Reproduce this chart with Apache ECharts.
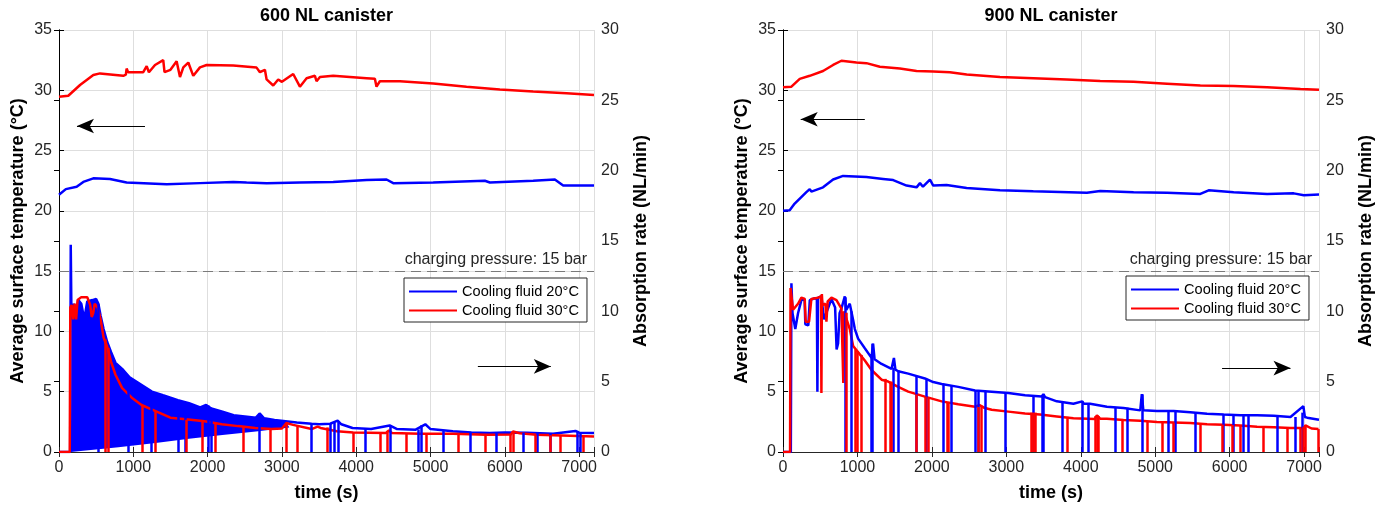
<!DOCTYPE html>
<html>
<head>
<meta charset="utf-8">
<title>Canister surface temperature and absorption rate</title>
<script src="https://cdn.jsdelivr.net/npm/echarts@6/dist/echarts.min.js"></script>
<style>
  html, body { margin: 0; padding: 0; background: #fff; }
  #chart { width: 1388px; height: 511px; }
</style>
</head>
<body>
<div id="chart"></div>
<script>
// ---- data (time in s, temperature in °C, absorption rate in NL/min) ----
const seriesNames = ['Cooling fluid 20°C', 'Cooling fluid 30°C'];
const panelTitles = ['600 NL canister', '900 NL canister'];
const xTickStep = 1000;
const xMax = 7200;

// 600 NL canister
const tempBlue600 = [[0,21.33],[92,21.8],[238,22.0],[327,22.4],[462,22.7],[686,22.65],[910,22.35],[1449,22.2],[1897,22.3],[2345,22.4],[2524,22.35],[2794,22.3],[3242,22.35],[3690,22.4],[4139,22.55],[4408,22.6],[4498,22.3],[5036,22.35],[5731,22.5],[5799,22.35],[6381,22.5],[6673,22.6],[6785,22.1],[7200,22.1]];
const tempRed600 = [[0,29.47],[125,29.55],[283,30.44],[462,31.27],[552,31.4],[865,31.2],[900,31.3],[910,31.8],[930,31.5],[1134,31.5],[1180,32.0],[1210,31.5],[1292,32.1],[1403,32.5],[1420,31.5],[1500,31.7],[1583,32.4],[1628,31.1],[1673,31.9],[1740,32.3],[1807,31.2],[1897,31.9],[1987,32.1],[2345,32.05],[2659,31.88],[2704,31.5],[2771,31.7],[2794,30.9],[2883,30.4],[2950,30.9],[3000,30.7],[3152,31.35],[3242,30.3],[3332,31.0],[3444,31.2],[3466,30.75],[3512,31.1],[3690,31.2],[4139,31.0],[4251,30.95],[4273,30.3],[4318,30.75],[4588,30.75],[5036,30.56],[5484,30.3],[5933,30.06],[6381,29.9],[6830,29.76],[7200,29.6]];
const rateBlue600 = [[0,0],[150,0],[158,14.74],[168,9.43],[200,10.54],[230,9.68],[260,10.8],[300,10.54],[340,9.43],[380,10.71],[450,10.8],[500,10.88],[530,10.54],[560,9.68],[600,8.74],[650,7.8],[700,7.11],[760,6.34],[850,5.91],[950,5.31],[1050,4.97],[1150,4.63],[1250,4.29],[1400,4.03],[1500,3.86],[1600,3.69],[1750,3.47],[1900,3.17],[1980,3.34],[2050,3.09],[2200,2.87],[2350,2.61],[2500,2.53],[2650,2.44],[2700,2.74],[2760,2.4],[2900,2.27],[3050,2.19],[3200,2.1],[3400,2.01],[3500,1.97],[3650,2.01],[3750,2.23],[3800,1.97],[3950,1.71],[4200,1.63],[4450,1.89],[4550,1.63],[4800,1.59],[4930,1.97],[5000,1.63],[5300,1.47],[5550,1.39],[5800,1.35],[6000,1.39],[6300,1.37],[6650,1.29],[6950,1.5],[7000,1.37],[7200,1.35]];
const rateRed600 = [[0,0],[145,0],[152,10.28],[170,10.45],[190,9.43],[210,10.54],[230,9.43],[250,10.8],[300,11.01],[380,11.01],[420,10.45],[440,9.6],[460,9.86],[480,10.54],[520,10.28],[560,9.43],[600,8.14],[650,7.46],[700,6.43],[760,5.49],[850,4.54],[980,3.86],[1110,3.34],[1300,2.91],[1500,2.44],[1740,2.31],[1960,2.19],[2190,1.97],[2410,1.84],[2640,1.71],[2860,1.63],[3000,1.67],[3060,2.06],[3150,1.93],[3400,1.63],[3480,1.8],[3520,1.71],[3740,1.47],[3960,1.39],[4400,1.35],[4440,1.54],[4480,1.35],[4860,1.3],[5300,1.29],[5750,1.23],[6080,1.24],[6110,1.46],[6200,1.33],[6430,1.23],[6880,1.16],[7200,1.11]];
// lower edge of the densely oscillating 20°C signal
const bandLow600 = [[160,0],[800,0.34],[1300,0.64],[1750,0.94],[2200,1.2],[2650,1.46],[3100,1.75]];
// short drops to zero: [time, level before the drop]
const dropsBlue600 = [[529,10.5],[933,5.4],[1247,4.3],[1605,3.7],[1695,3.5],[2009,3.3],[2054,3.1],[2690,2.7],[3400,2.0],[3650,2.0],[3700,2.1],[3760,2.2],[4120,1.65],[4453,1.9],[4840,1.6],[4880,1.9],[5170,1.55],[5530,1.4],[5890,1.35],[6250,1.38],[6430,1.38],[6610,1.3],[6970,1.5],[7010,1.4]];
const dropsRed600 = [[625,8.0],[665,7.4],[1121,3.3],[1301,2.9],[1718,2.3],[1930,2.2],[2099,2.05],[2480,1.8],[2845,1.63],[3063,2.05],[3210,1.9],[3610,1.75],[3960,1.4],[4320,1.35],[4420,1.5],[4677,1.33],[4946,1.3],[5372,1.29],[5731,1.23],[6075,1.24],[6110,1.46],[6404,1.23],[6606,1.2],[6740,1.18],[7054,1.14]];
// arrows [t from, °C, t to, °C]
const arrows600 = [[1157,27.04,242,27.04],[5637,7.1,6619,7.1]];

// 900 NL canister
const tempBlue900 = [[0,20.0],[90,20.05],[157,20.6],[314,21.55],[359,21.8],[381,21.6],[538,21.95],[673,22.6],[807,22.9],[1121,22.8],[1345,22.65],[1480,22.55],[1660,22.1],[1794,21.95],[1840,22.3],[1880,22.0],[1974,22.6],[2018,22.1],[2197,22.15],[2467,21.9],[2915,21.7],[3363,21.62],[4082,21.5],[4261,21.65],[4709,21.55],[5158,21.5],[5606,21.4],[5718,21.7],[6054,21.55],[6503,21.4],[6861,21.45],[6996,21.3],[7200,21.35]];
const tempRed900 = [[0,30.25],[113,30.3],[225,30.95],[359,31.2],[538,31.6],[673,32.1],[785,32.45],[987,32.3],[1121,32.25],[1301,31.95],[1570,31.8],[1794,31.6],[2018,31.55],[2242,31.5],[2467,31.3],[2915,31.1],[3363,31.0],[3812,30.9],[4261,30.77],[4709,30.7],[5158,30.55],[5606,30.4],[6054,30.35],[6503,30.25],[6951,30.1],[7200,30.04]];
const rateBlue900 = [[0,0],[105,0],[113,12.0],[128,9.86],[165,8.74],[202,9.86],[247,10.8],[290,10.88],[300,9.08],[340,9.0],[360,10.8],[426,10.93],[455,10.88],[462,4.29],[470,10.97],[516,11.06],[550,9.43],[580,9.86],[651,10.88],[700,10.28],[720,7.29],[740,7.71],[760,9.86],[785,10.2],[830,11.06],[850,10.11],[897,10.54],[940,9.43],[965,8.74],[1009,8.06],[1099,7.37],[1189,6.69],[1210,7.71],[1230,6.6],[1324,6.26],[1458,5.91],[1490,6.69],[1510,5.85],[1547,5.74],[1682,5.57],[1906,5.23],[2018,4.97],[2131,4.84],[2354,4.63],[2579,4.37],[2803,4.29],[3027,4.2],[3251,4.03],[3475,3.94],[3498,4.11],[3520,3.9],[3678,3.6],[3901,3.43],[4020,3.6],[4040,3.43],[4125,3.43],[4351,3.21],[4574,3.13],[4799,2.96],[4820,4.11],[4840,2.96],[5023,2.91],[5248,2.91],[5471,2.83],[5696,2.72],[5920,2.66],[6144,2.61],[6368,2.61],[6592,2.57],[6817,2.49],[6990,3.26],[7010,2.49],[7041,2.44],[7200,2.3]];
const rateRed900 = [[0,0],[95,0],[101,11.66],[135,10.11],[202,10.54],[247,10.97],[292,10.88],[305,9.26],[350,9.26],[381,10.88],[471,10.97],[510,11.06],[516,4.2],[522,11.23],[530,10.45],[570,10.54],[583,9.26],[600,10.71],[651,10.97],[718,10.8],[785,10.2],[800,10.2],[810,4.9],[820,10.0],[830,9.94],[897,8.74],[942,7.54],[1032,6.94],[1099,6.51],[1189,5.83],[1324,5.14],[1413,5.01],[1547,4.63],[1682,4.29],[1906,3.94],[2131,3.6],[2354,3.39],[2579,3.21],[2640,3.34],[2700,3.15],[2803,3.0],[3027,2.87],[3251,2.74],[3453,2.66],[3678,2.53],[3901,2.4],[4190,2.35],[4216,2.61],[4260,2.37],[4351,2.37],[4574,2.28],[4799,2.23],[5023,2.14],[5248,2.1],[5471,2.06],[5696,1.97],[5920,1.94],[6144,1.89],[6368,1.8],[6592,1.76],[6817,1.71],[7000,1.7],[7018,1.89],[7100,1.67],[7193,1.63]];
const dropsBlue900 = [[830,11.0],[920,10.0],[1180,6.7],[1200,7.7],[1480,6.0],[1547,5.8],[1794,5.4],[1928,5.2],[2153,4.85],[2265,4.75],[2580,4.4],[2623,4.4],[2713,4.3],[2982,4.2],[3363,4.05],[3480,4.0],[3498,4.1],[3745,3.6],[4020,3.6],[4103,3.45],[4462,3.2],[4620,3.15],[4822,4.1],[5180,2.9],[5270,2.9],[5539,2.8],[5919,2.65],[6054,2.62],[6189,2.6],[6256,2.6],[6638,2.55],[6884,2.49],[6974,2.8]];
const dropsRed900 = [[852,9.9],[965,7.3],[1000,7.1],[1054,6.9],[1368,5.2],[1435,5.0],[1458,5.0],[1794,4.1],[1906,3.95],[1951,3.9],[2200,3.55],[2220,3.55],[2623,3.2],[2668,3.3],[3341,2.8],[3363,2.8],[3390,2.8],[3812,2.5],[4193,2.55],[4215,2.6],[4238,2.55],[4552,2.3],[4888,2.2],[5090,2.15],[5248,2.1],[5606,2.0],[5897,1.95],[6031,1.92],[6144,1.89],[6457,1.8],[6772,1.72],[6950,1.7],[6990,1.8],[7018,1.89],[7193,1.63]];
const arrows900 = [[1099,27.6,238,27.6],[5898,6.96,6817,6.96]];

const chargingPressure = 15;

// ---- styling ----
const FONT = '"Liberation Sans", Arial, Helvetica, sans-serif';
const BLUE = '#0000ff';
const RED = '#ff0000';
const AXIS = '#262626';
const GRIDLINE = '#dedede';

const panels = [
  { title: panelTitles[0], left: 59, width: 535, legend: { left: 404, top: 278 },
    tempBlue: tempBlue600, tempRed: tempRed600, rateBlue: rateBlue600, rateRed: rateRed600,
    dropsBlue: dropsBlue600, dropsRed: dropsRed600, arrows: arrows600, band: bandLow600 },
  { title: panelTitles[1], left: 783, width: 536, legend: { left: 1126, top: 276 },
    tempBlue: tempBlue900, tempRed: tempRed900, rateBlue: rateBlue900, rateRed: rateRed900,
    dropsBlue: dropsBlue900, dropsRed: dropsRed900, arrows: arrows900, band: null }
];

function dropLines(drops) {
  return drops.map(d => [{ coord: [d[0], 0] }, { coord: [d[0], d[1]] }]);
}

const option = {
  animation: false,
  textStyle: { fontFamily: FONT },
  title: [], legend: [], grid: [], xAxis: [], yAxis: [], series: []
};

panels.forEach((p, i) => {
  const xi = i * 2, yl = i * 2, yr = i * 2 + 1;

  option.grid.push({ left: p.left, width: p.width, top: 30, bottom: 59, containLabel: false });

  option.title.push({
    text: p.title, left: p.left + p.width / 2, top: 7, textAlign: 'center', padding: 0,
    textStyle: { fontSize: 18, fontWeight: 'bold', color: '#000', fontFamily: FONT }
  });

  option.legend.push({
    data: seriesNames, left: p.legend.left, top: p.legend.top, orient: 'vertical',
    icon: 'rect', itemWidth: 48, itemHeight: 2, itemGap: 4,
    padding: [6, 8, 4, 5], backgroundColor: '#fff', borderColor: AXIS, borderWidth: 1,
    borderRadius: 0, z: 10, selectedMode: false,
    textStyle: { fontSize: 14.6, color: '#000', fontFamily: FONT }
  });

  // bottom x axis
  option.xAxis.push({
    type: 'value', gridIndex: i, min: 0, max: xMax, interval: xTickStep, position: 'bottom',
    name: 'time (s)', nameLocation: 'middle', nameGap: 32,
    nameTextStyle: { fontSize: 18, fontWeight: 'bold', color: '#000', fontFamily: FONT },
    axisLine: { show: true, lineStyle: { color: AXIS, width: 1 } },
    axisTick: { show: true, inside: true, length: 5, lineStyle: { color: AXIS } },
    axisLabel: { fontSize: 16, color: AXIS, margin: 8, fontFamily: FONT,
      formatter: v => (v % xTickStep === 0 ? String(v) : '') },
    splitLine: { show: true, lineStyle: { color: GRIDLINE, width: 1 } }
  });
  // top frame
  option.xAxis.push({
    type: 'value', gridIndex: i, min: 0, max: xMax, interval: xTickStep, position: 'top',
    axisLine: { show: true, lineStyle: { color: AXIS, width: 1 } },
    axisTick: { show: true, inside: true, length: 5, lineStyle: { color: AXIS } },
    axisLabel: { show: false }, splitLine: { show: false }
  });

  option.yAxis.push({
    type: 'value', gridIndex: i, min: 0, max: 35, interval: 5, position: 'left',
    name: 'Average surface temperature (°C)', nameLocation: 'middle', nameGap: 32, nameRotate: 90,
    nameTextStyle: { fontSize: 18, fontWeight: 'bold', color: '#000', fontFamily: FONT },
    axisLine: { show: true, lineStyle: { color: '#000', width: 1 } },
    axisTick: { show: true, inside: true, length: 5, lineStyle: { color: '#000' } },
    axisLabel: { fontSize: 16, color: AXIS, margin: 7, fontFamily: FONT },
    splitLine: { show: true, lineStyle: { color: GRIDLINE, width: 1 } }
  });
  option.yAxis.push({
    type: 'value', gridIndex: i, min: 0, max: 30, interval: 5, position: 'right',
    name: 'Absorption rate (NL/min)', nameLocation: 'middle', nameGap: 38, nameRotate: 90,
    nameTextStyle: { fontSize: 18, fontWeight: 'bold', color: '#000', fontFamily: FONT },
    axisLine: { show: true, lineStyle: { color: '#000', width: 1 } },
    axisTick: { show: true, inside: true, length: 5, lineStyle: { color: '#000' } },
    axisLabel: { fontSize: 16, color: AXIS, margin: 7, fontFamily: FONT },
    splitLine: { show: false }
  });

  const line = (name, data, color, yIndex, extra) => Object.assign({
    type: 'line', name: name, data: data, xAxisIndex: xi, yAxisIndex: yIndex,
    showSymbol: false, symbol: 'none', clip: true, silent: true,
    lineStyle: { color: color, width: 2.5 }, itemStyle: { color: color },
    emphasis: { disabled: true }
  }, extra || {});

  const dropMark = (drops, color) => ({
    silent: true, symbol: ['none', 'none'], label: { show: false },
    lineStyle: { color: color, width: 2.5, type: 'solid' },
    emphasis: { disabled: true }, data: dropLines(drops)
  });

  // dense oscillation band (600 NL, 20°C)
  if (p.band) {
    const band = p.band;
    const t0 = band[0][0], t1 = band[band.length - 1][0];
    option.series.push({
      type: 'custom', xAxisIndex: xi, yAxisIndex: yr, silent: true, clip: true,
      data: [[t0, 0]],
      renderItem: (params, api) => {
        const top = p.rateBlue.filter(d => d[0] >= t0 && d[0] <= t1);
        const pts = top.concat(band.slice().reverse()).map(d => api.coord(d));
        return { type: 'polygon', shape: { points: pts }, style: { fill: BLUE } };
      }
    });
  }

  option.series.push(line(seriesNames[0], p.rateBlue, BLUE, yr, { markLine: dropMark(p.dropsBlue, BLUE) }));
  option.series.push(line(seriesNames[1], p.rateRed, RED, yr, { markLine: dropMark(p.dropsRed, RED) }));

  option.series.push(line(seriesNames[0], p.tempBlue, BLUE, yl, {
    markLine: {
      silent: true, symbol: ['none', 'none'],
      lineStyle: { color: '#7a7a7a', width: 1.2, type: [10, 6] },
      label: { show: true, position: 'insideEndTop', formatter: 'charging pressure: ' + chargingPressure + ' bar',
        fontSize: 16, color: AXIS, fontFamily: FONT, distance: [7, 4] },
      emphasis: { disabled: true },
      data: [{ yAxis: chargingPressure }]
    }
  }));
  option.series.push(line(seriesNames[1], p.tempRed, RED, yl, {
    markLine: {
      silent: true, symbol: ['none', 'arrow'], symbolSize: [11, 17], label: { show: false },
      lineStyle: { color: '#000', width: 1, type: 'solid' },
      emphasis: { disabled: true },
      data: p.arrows.map(a => [{ coord: [a[0], a[1]] }, { coord: [a[2], a[3]] }])
    }
  }));
});

const chart = echarts.init(document.getElementById('chart'), null, { renderer: 'canvas' });
chart.setOption(option);
</script>
</body>
</html>
